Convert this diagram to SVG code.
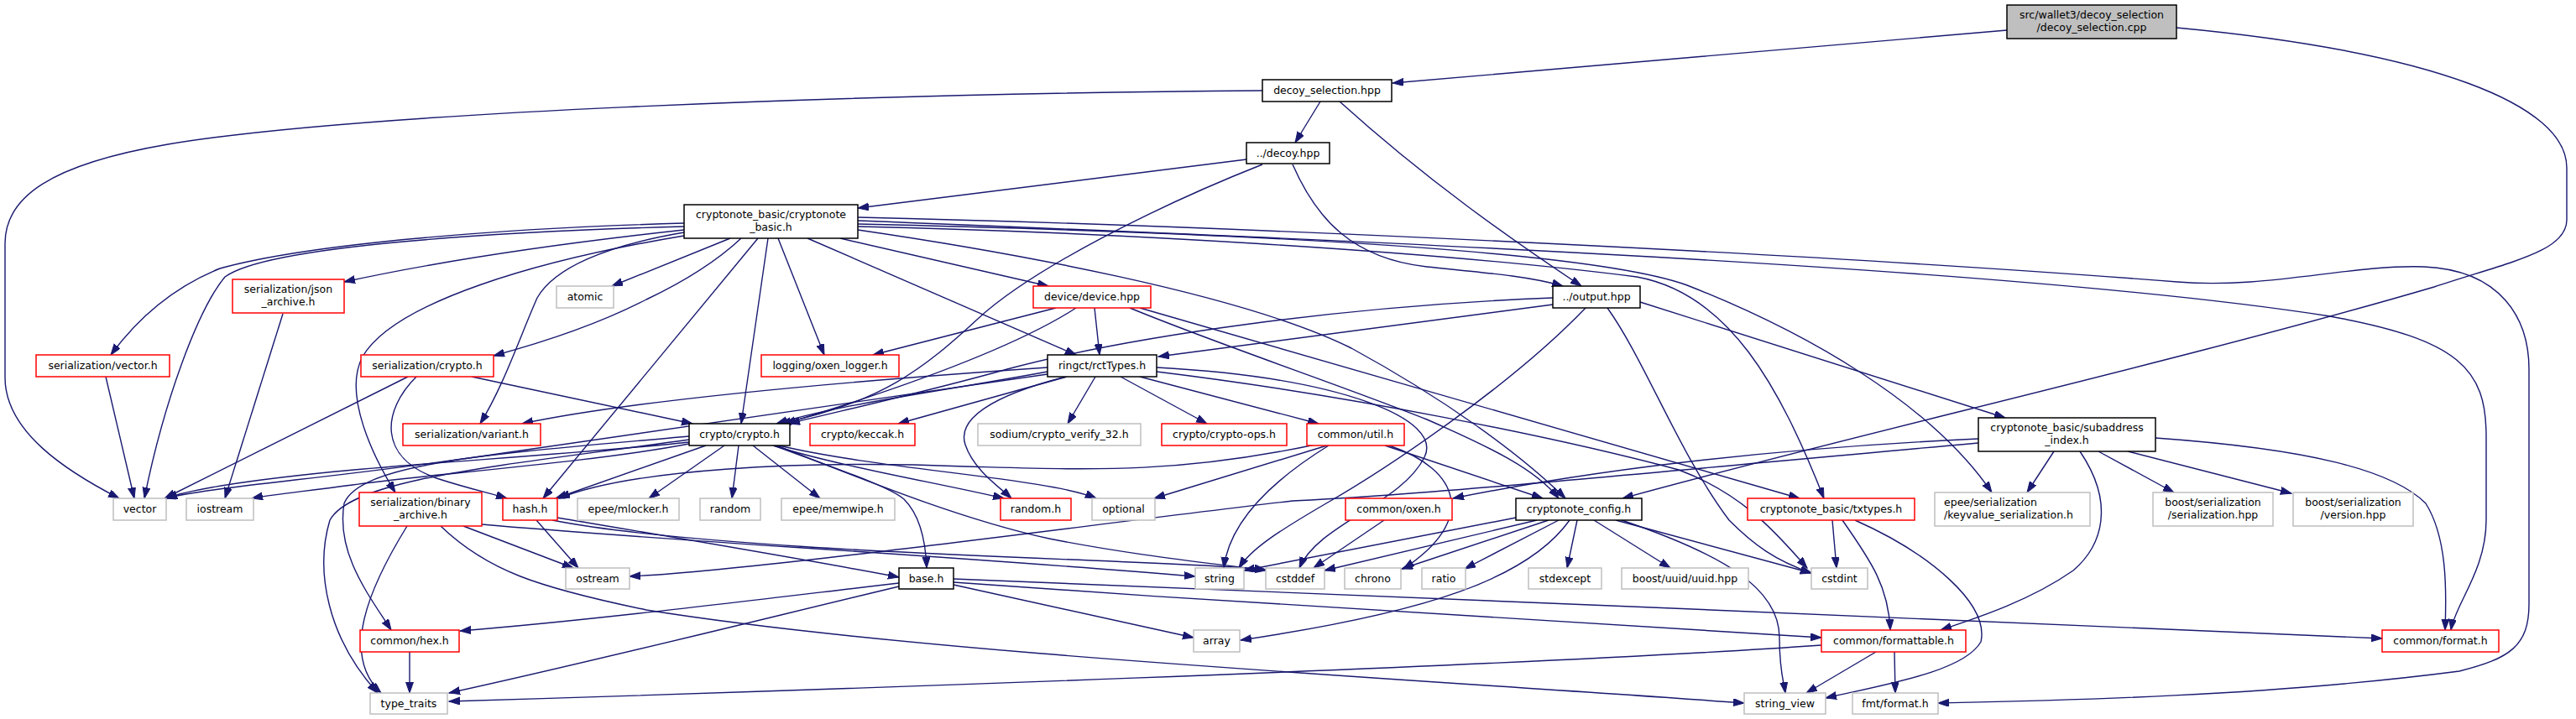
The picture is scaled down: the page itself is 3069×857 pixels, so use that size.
<svg xmlns="http://www.w3.org/2000/svg" width="3069" height="857" viewBox="0 0 3069 857">
<style>
.n rect{fill:#fff;stroke-width:1.5}
.b rect{stroke:#000}
.r rect{stroke:#ff0000}
.g rect{stroke:#bfbfbf}
.root rect{fill:#bfbfbf;stroke:#000}
text{font-family:"DejaVu Sans","Liberation Sans",sans-serif;font-size:12.5px;fill:#000;text-anchor:middle}
#edges path{fill:none;stroke:#191970;stroke-width:1.4;marker-end:url(#a)}
</style>
<defs>
<marker id="a" markerUnits="userSpaceOnUse" markerWidth="14" markerHeight="10" refX="13" refY="4.5" orient="auto"><path d="M0,0 L13,4.5 L0,9 z" fill="#191970" stroke="#191970" stroke-width="1"/></marker>
</defs>
<rect width="3069" height="857" fill="#fff"/>
<g id="edges">
<path d="M2391,36 C2150,57 1900,78 1659,99"/>
<path d="M2593,33 C2900,62 3058,125 3058,200 L3058,262 C3058,300 2990,312 2900,342 C2600,430 2200,520 1933,594"/>
<path d="M1504,108 C1000,112 420,135 200,172 C60,196 6,235 6,290 L6,450 C6,515 80,562 142,594"/>
<path d="M1573,121 L1543,170"/>
<path d="M1596,121 C1700,215 1800,285 1884,341"/>
<path d="M1485,190 L1022,248"/>
<path d="M1504,196 C1380,245 1230,320 1165,380 C1100,440 1050,480 929,505"/>
<path d="M1540,196 C1568,260 1610,308 1700,318 C1780,326 1825,330 1862,341"/>
<path d="M815,266 C600,272 370,290 262,320 C200,345 160,385 132,423"/>
<path d="M815,270 C600,276 320,292 268,330 C235,370 195,480 172,594"/>
<path d="M815,274 C650,292 520,312 410,336"/>
<path d="M815,281 C640,310 470,360 432,425 C408,470 445,545 471,587"/>
<path d="M815,277 C720,293 660,320 640,355 C620,400 600,460 572,505"/>
<path d="M870,284 L729,341"/>
<path d="M883,284 C850,315 810,338 770,357 C710,388 640,410 588,424"/>
<path d="M903,284 L647,594"/>
<path d="M915,284 L883,505"/>
<path d="M927,284 L982,423"/>
<path d="M962,284 L1282,423"/>
<path d="M1001,284 L1249,341"/>
<path d="M1022,274 C1200,300 1480,350 1610,415 C1720,475 1810,540 1865,594"/>
<path d="M1022,270 C1300,276 1700,298 1950,330 C2060,350 2120,460 2173,594"/>
<path d="M1022,267 C1500,278 1900,300 2010,340 C2150,395 2300,480 2373,587"/>
<path d="M1022,263 C1600,286 2400,318 2776,377 C2930,405 2962,440 2962,520 L2962,620 C2962,680 2925,720 2920,751"/>
<path d="M1022,259 C1500,270 2200,305 2594,336 C2700,345 2800,315 2888,318 C2980,322 3013,380 3013,440 L3013,720 C3013,770 2990,785 2930,800 C2700,830 2450,835 2309,838"/>
<path d="M337,374 L268,594"/>
<path d="M126,449 L160,594"/>
<path d="M486,449 L196,594"/>
<path d="M496,449 C455,490 450,545 520,570 C560,583 585,588 604,594"/>
<path d="M562,449 L825,505"/>
<path d="M1258,367 L1040,423"/>
<path d="M1282,367 C1200,420 1050,470 935,505"/>
<path d="M1304,367 L1310,423"/>
<path d="M1346,367 C1450,410 1600,460 1700,500 C1780,535 1830,560 1857,594"/>
<path d="M1358,367 L2144,594"/>
<path d="M1850,363 L1380,425"/>
<path d="M1850,355 C1600,365 1350,400 1200,440 C1100,468 1000,490 940,505"/>
<path d="M1954,360 L2389,498"/>
<path d="M1915,367 C1960,430 2000,540 2060,620 C2090,650 2115,668 2158,683"/>
<path d="M1889,367 C1800,460 1650,560 1580,600 C1520,635 1490,655 1476,677"/>
<path d="M1248,443 C1100,470 1000,482 925,505"/>
<path d="M1271,449 L1070,505"/>
<path d="M1305,449 L1272,505"/>
<path d="M1335,449 L1438,505"/>
<path d="M1358,449 L1571,505"/>
<path d="M1270,449 C1180,472 1140,500 1150,530 C1160,560 1190,580 1205,594"/>
<path d="M1248,438 C1000,455 750,478 622,505"/>
<path d="M1248,446 C1000,480 800,510 600,540 C400,570 250,580 198,594"/>
<path d="M1378,438 C1600,450 1720,500 1697,545 C1670,600 1570,625 1548,677"/>
<path d="M1378,443 C1600,470 1850,520 2000,560 C2080,590 2120,640 2153,677"/>
<path d="M821,527 C700,540 500,552 400,562 C300,572 230,582 198,594"/>
<path d="M821,529 C700,552 500,566 420,578 C360,586 320,590 300,594"/>
<path d="M841,531 L662,594"/>
<path d="M863,531 L773,594"/>
<path d="M880,531 L872,594"/>
<path d="M897,531 L977,594"/>
<path d="M921,531 C1000,556 1120,576 1196,594"/>
<path d="M928,531 C1050,560 1250,570 1306,594"/>
<path d="M922,531 C1000,560 1060,580 1077,595 C1097,615 1103,650 1104,677"/>
<path d="M925,531 C1050,580 1150,620 1250,642 C1350,662 1450,672 1508,680"/>
<path d="M821,520 C600,540 430,550 410,600 C400,660 440,710 466,751"/>
<path d="M821,524 C600,555 420,570 393,620 C375,680 390,760 450,826"/>
<path d="M639,620 L689,677"/>
<path d="M664,617 C800,640 950,665 1071,688"/>
<path d="M658,620 C800,648 1100,660 1300,668 C1400,672 1470,675 1508,679"/>
<path d="M574,625 C800,645 1100,660 1424,687"/>
<path d="M552,627 L683,677"/>
<path d="M485,627 C440,700 405,780 454,826"/>
<path d="M525,627 C580,680 640,700 770,727 C1100,780 1700,810 2078,838"/>
<path d="M1071,695 C900,715 700,740 548,752"/>
<path d="M1071,699 C900,740 700,790 535,826"/>
<path d="M1136,697 L1422,760"/>
<path d="M1136,694 C1500,720 1900,745 2170,760"/>
<path d="M1136,690 C1600,710 2400,740 2838,761"/>
<path d="M488,777 L488,826"/>
<path d="M1581,531 L1375,594"/>
<path d="M1583,531 C1520,570 1465,620 1458,677"/>
<path d="M1655,531 C1740,560 1760,620 1672,678"/>
<path d="M1650,531 L1838,594"/>
<path d="M1567,530 C1400,565 1300,560 1150,556 C950,548 750,560 666,594"/>
<path d="M1649,620 L1565,677"/>
<path d="M1806,617 L1482,680"/>
<path d="M1831,620 L1578,680"/>
<path d="M1845,620 L1670,678"/>
<path d="M1857,620 L1745,678"/>
<path d="M1870,620 C1820,690 1700,730 1478,763"/>
<path d="M1879,620 L1867,677"/>
<path d="M1899,620 L1990,677"/>
<path d="M1925,620 L2158,683"/>
<path d="M1932,620 C2050,660 2120,700 2120,760 C2120,800 2125,812 2127,826"/>
<path d="M2183,620 L2188,677"/>
<path d="M2195,620 C2230,670 2250,700 2252,751"/>
<path d="M2210,620 C2300,660 2370,720 2360,765 C2340,800 2250,815 2175,832"/>
<path d="M2235,777 L2152,826"/>
<path d="M2257,777 L2258,826"/>
<path d="M2170,769 C1800,795 900,825 535,836"/>
<path d="M2447,538 L2415,587"/>
<path d="M2478,538 C2520,600 2505,650 2470,680 C2420,715 2360,735 2312,751"/>
<path d="M2500,538 L2590,587"/>
<path d="M2535,538 L2730,588"/>
<path d="M2568,522 C2750,535 2850,560 2890,600 C2915,640 2915,700 2913,751"/>
<path d="M2357,523 C2100,535 1900,560 1731,594"/>
<path d="M2357,528 C2000,560 1700,590 1540,597 C1300,625 900,680 750,687"/>
</g>
<g id="cpp" class="n root"><rect x="2391" y="6" width="202" height="40"/><text x="2492" y="22">src/wallet3/decoy_selection</text><text x="2492" y="36.5">/decoy_selection.cpp</text></g>
<g id="dsh" class="n b"><rect x="1504" y="95" width="154" height="26"/><text x="1581" y="112">decoy_selection.hpp</text></g>
<g id="decoy" class="n b"><rect x="1485" y="170" width="99" height="25"/><text x="1534.5" y="186.5">../decoy.hpp</text></g>
<g id="cb" class="n b"><rect x="815" y="244" width="207" height="40"/><text x="918.5" y="260.2">cryptonote_basic/cryptonote</text><text x="918.5" y="274.7">_basic.h</text></g>
<g id="json" class="n r"><rect x="277" y="333" width="133" height="40"/><text x="343.5" y="349.2">serialization/json</text><text x="343.5" y="363.7">_archive.h</text></g>
<g id="atomic" class="n g"><rect x="663" y="341" width="68" height="26"/><text x="697" y="358">atomic</text></g>
<g id="device" class="n r"><rect x="1231" y="341" width="140" height="26"/><text x="1301" y="358">device/device.hpp</text></g>
<g id="output" class="n b"><rect x="1850" y="341" width="104" height="26"/><text x="1902" y="358">../output.hpp</text></g>
<g id="svec" class="n r"><rect x="43" y="423" width="159" height="26"/><text x="122.5" y="440">serialization/vector.h</text></g>
<g id="scrypto" class="n r"><rect x="430" y="423" width="158" height="26"/><text x="509" y="440">serialization/crypto.h</text></g>
<g id="logger" class="n r"><rect x="907" y="423" width="164" height="26"/><text x="989" y="440">logging/oxen_logger.h</text></g>
<g id="rct" class="n b"><rect x="1248" y="423" width="130" height="26"/><text x="1313" y="440">ringct/rctTypes.h</text></g>
<g id="sai" class="n b"><rect x="2357" y="498" width="211" height="40"/><text x="2462.5" y="514.2">cryptonote_basic/subaddress</text><text x="2462.5" y="528.7">_index.h</text></g>
<g id="svar" class="n r"><rect x="480" y="505" width="164" height="26"/><text x="562" y="522">serialization/variant.h</text></g>
<g id="crypto" class="n b"><rect x="821" y="505" width="120" height="26"/><text x="881" y="522">crypto/crypto.h</text></g>
<g id="keccak" class="n r"><rect x="965" y="505" width="125" height="26"/><text x="1027.5" y="522">crypto/keccak.h</text></g>
<g id="sodium" class="n g"><rect x="1165" y="505" width="194" height="26"/><text x="1262" y="522">sodium/crypto_verify_32.h</text></g>
<g id="cops" class="n r"><rect x="1384" y="505" width="149" height="26"/><text x="1458.5" y="522">crypto/crypto-ops.h</text></g>
<g id="util" class="n r"><rect x="1557" y="505" width="116" height="26"/><text x="1615" y="522">common/util.h</text></g>
<g id="vector" class="n g"><rect x="135" y="594" width="63" height="26"/><text x="166.5" y="611">vector</text></g>
<g id="iostream" class="n g"><rect x="222" y="594" width="80" height="26"/><text x="262" y="611">iostream</text></g>
<g id="binary" class="n r"><rect x="428" y="587" width="146" height="40"/><text x="501" y="603.2">serialization/binary</text><text x="501" y="617.7">_archive.h</text></g>
<g id="hash" class="n r"><rect x="599" y="594" width="65" height="26"/><text x="631.5" y="611">hash.h</text></g>
<g id="mlocker" class="n g"><rect x="688" y="594" width="121" height="26"/><text x="748.5" y="611">epee/mlocker.h</text></g>
<g id="random" class="n g"><rect x="834" y="594" width="72" height="26"/><text x="870" y="611">random</text></g>
<g id="memwipe" class="n g"><rect x="931" y="594" width="135" height="26"/><text x="998.5" y="611">epee/memwipe.h</text></g>
<g id="randomh" class="n r"><rect x="1192" y="594" width="84" height="26"/><text x="1234" y="611">random.h</text></g>
<g id="optional" class="n g"><rect x="1301" y="594" width="75" height="26"/><text x="1338.5" y="611">optional</text></g>
<g id="oxen" class="n r"><rect x="1603" y="594" width="127" height="26"/><text x="1666.5" y="611">common/oxen.h</text></g>
<g id="config" class="n b"><rect x="1806" y="594" width="150" height="26"/><text x="1881" y="611">cryptonote_config.h</text></g>
<g id="txtypes" class="n r"><rect x="2082" y="594" width="199" height="26"/><text x="2181.5" y="611">cryptonote_basic/txtypes.h</text></g>
<g id="epeekv" class="n g"><rect x="2305" y="587" width="185" height="40"/><text x="2316" y="603.2" style="text-anchor:start">epee/serialization</text><text x="2316" y="617.7" style="text-anchor:start">/keyvalue_serialization.h</text></g>
<g id="bser" class="n g"><rect x="2565" y="587" width="143" height="40"/><text x="2636.5" y="603.2">boost/serialization</text><text x="2636.5" y="617.7">/serialization.hpp</text></g>
<g id="bver" class="n g"><rect x="2732" y="587" width="143" height="40"/><text x="2803.5" y="603.2">boost/serialization</text><text x="2803.5" y="617.7">/version.hpp</text></g>
<g id="ostream" class="n g"><rect x="674" y="677" width="76" height="25"/><text x="712" y="693.5">ostream</text></g>
<g id="base" class="n b"><rect x="1071" y="677" width="65" height="25"/><text x="1103.5" y="693.5">base.h</text></g>
<g id="string" class="n g"><rect x="1424" y="677" width="58" height="25"/><text x="1453" y="693.5">string</text></g>
<g id="cstddef" class="n g"><rect x="1508" y="677" width="70" height="25"/><text x="1543" y="693.5">cstddef</text></g>
<g id="chrono" class="n g"><rect x="1602" y="677" width="67" height="25"/><text x="1635.5" y="693.5">chrono</text></g>
<g id="ratio" class="n g"><rect x="1694" y="677" width="52" height="25"/><text x="1720" y="693.5">ratio</text></g>
<g id="stdexcept" class="n g"><rect x="1821" y="677" width="87" height="25"/><text x="1864.5" y="693.5">stdexcept</text></g>
<g id="uuid" class="n g"><rect x="1932" y="677" width="151" height="25"/><text x="2007.5" y="693.5">boost/uuid/uuid.hpp</text></g>
<g id="cstdint" class="n g"><rect x="2158" y="677" width="67" height="25"/><text x="2191.5" y="693.5">cstdint</text></g>
<g id="hex" class="n r"><rect x="429" y="751" width="118" height="26"/><text x="488" y="768">common/hex.h</text></g>
<g id="array" class="n g"><rect x="1422" y="751" width="55" height="26"/><text x="1449.5" y="768">array</text></g>
<g id="formattable" class="n r"><rect x="2170" y="751" width="172" height="26"/><text x="2256" y="768">common/formattable.h</text></g>
<g id="format" class="n r"><rect x="2838" y="751" width="139" height="26"/><text x="2907.5" y="768">common/format.h</text></g>
<g id="typetraits" class="n g"><rect x="441" y="826" width="92" height="25"/><text x="487" y="842.5">type_traits</text></g>
<g id="stringview" class="n g"><rect x="2078" y="826" width="97" height="25"/><text x="2126.5" y="842.5">string_view</text></g>
<g id="fmt" class="n g"><rect x="2207" y="826" width="102" height="25"/><text x="2258" y="842.5">fmt/format.h</text></g>
</svg>
